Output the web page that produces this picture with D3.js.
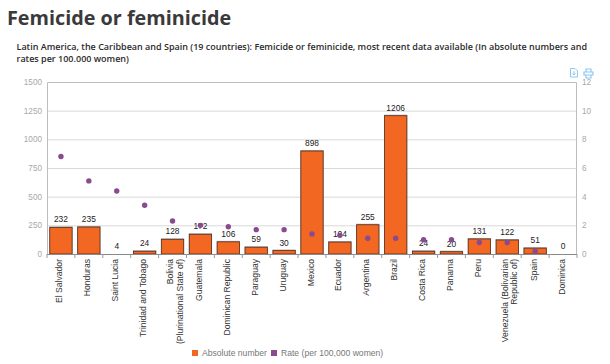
<!DOCTYPE html>
<html>
<head>
<meta charset="utf-8">
<script src="https://cdn.jsdelivr.net/npm/d3@7"></script>
<style>
  html, body { margin: 0; padding: 0; background: #fff; }
  svg { display: block; }
  text { font-family: "Liberation Sans", Arial, sans-serif; }
  .title { font-family: "Open Sans", sans-serif; font-weight: 700; font-size: 19.8px; fill: #3a3a3a; }
  .sub { font-family: "Open Sans", sans-serif; font-weight: 600; font-size: 9px; fill: #2b2b2b; }
</style>
</head>
<body>
<script>
// Values
var countries = [
  ["El Salvador"], ["Honduras"], ["Saint Lucia"], ["Trinidad and Tobago"],
  ["Bolivia", "(Plurinational State of)"], ["Guatemala"], ["Dominican Republic"],
  ["Paraguay"], ["Uruguay"], ["Mexico"], ["Ecuador"], ["Argentina"], ["Brazil"],
  ["Costa Rica"], ["Panama"], ["Peru"], ["Venezuela (Bolivarian", "Republic of)"],
  ["Spain"], ["Dominica"]
];
var absolute = [232, 235, 4, 24, 128, 172, 106, 59, 30, 898, 104, 255, 1206, 24, 20, 131, 122, 51, 0];
var rates = [6.8, 5.1, 4.4, 3.4, 2.3, 2.0, 1.9, 1.7, 1.7, 1.4, 1.3, 1.1, 1.1, 1.0, 1.0, 0.8, 0.8, 0.2, null];
var leftTicks = [0, 250, 500, 750, 1000, 1250, 1500];
var rightTicks = [0, 2, 4, 6, 8, 10, 12];
var legendLabels = ["Absolute number", "Rate (per 100,000 women)"];
var barColor = "#f26722";
var dotColor = "#8a4a8f";

var w = 610;
var h = 364;
var plot = { left: 47, right: 577, top: 82, bottom: 254 };

var svg = d3.select("body").append("svg")
    .attr("width", w)
    .attr("height", h);

svg.append("text").attr("class", "title").attr("x", 7).attr("y", 25).text("Femicide or feminicide");
svg.append("text").attr("class", "sub").attr("x", 16.5).attr("y", 50)
    .text("Latin America, the Caribbean and Spain (19 countries): Femicide or feminicide, most recent data available (In absolute numbers and");
svg.append("text").attr("class", "sub").attr("x", 16.5).attr("y", 62).text("rates per 100.000 women)");

var x = d3.scaleBand()
    .domain(d3.range(countries.length))
    .range([plot.left, plot.right])
    .paddingInner(0.2)
    .paddingOuter(0.1);

var yLeft = d3.scaleLinear().domain([0, 1500]).range([plot.bottom, plot.top]);
var yRight = d3.scaleLinear().domain([0, 12]).range([plot.bottom, plot.top]);

// gridlines
svg.append("g").selectAll("line")
    .data(leftTicks.slice(1, -1))
    .enter().append("line")
    .attr("x1", plot.left)
    .attr("x2", plot.right)
    .attr("y1", function(d) { return yLeft(d) + 0.5; })
    .attr("y2", function(d) { return yLeft(d) + 0.5; })
    .attr("stroke", "#d9d9d9");

// plot frame
svg.append("path")
    .attr("d", "M" + (plot.left + 0.5) + "," + plot.bottom + "V" + (plot.top + 0.5) + "H" + (plot.right - 0.5) + "V" + plot.bottom)
    .attr("fill", "none")
    .attr("stroke", "#bdbdbd");

// left and right axes
var axisL = svg.append("g")
    .attr("transform", "translate(" + plot.left + ",0)")
    .call(d3.axisLeft(yLeft).tickValues(leftTicks).tickFormat(d3.format("d")).tickSize(0).tickPadding(5));
var axisR = svg.append("g")
    .attr("transform", "translate(" + plot.right + ",0)")
    .call(d3.axisRight(yRight).tickValues(rightTicks).tickFormat(d3.format("d")).tickSize(0).tickPadding(5));
[axisL, axisR].forEach(function(a) {
  a.select(".domain").remove();
  a.selectAll("text").attr("font-size", 8.2).attr("fill", "#a8a8a8").style("font-family", '"Liberation Sans", Arial, sans-serif');
});

// bar shadow, then bar
svg.append("g").selectAll("rect")
    .data(absolute)
    .enter().append("rect")
    .attr("x", function(d, i) { return x(i) - 0.5; })
    .attr("y", function(d) { return yLeft(d) - 1; })
    .attr("width", x.bandwidth() + 1)
    .attr("height", function(d) { return Math.max(0, plot.bottom - yLeft(d) + 1); })
    .attr("fill", "#8f8f8f")
    .attr("opacity", function(d) { return d > 4 ? 0.8 : 0; });

svg.append("g").selectAll("rect")
    .data(absolute)
    .enter().append("rect")
    .attr("x", function(d, i) { return x(i); })
    .attr("y", function(d) { return yLeft(d); })
    .attr("width", x.bandwidth())
    .attr("height", function(d) { return plot.bottom - yLeft(d); })
    .attr("fill", barColor)
    .attr("stroke", "#5a3020")
    .attr("stroke-width", 0.8)
    .attr("opacity", function(d) { return d > 4 ? 1 : 0; });

// baseline and category ticks
svg.append("line")
    .attr("x1", plot.left).attr("x2", plot.right)
    .attr("y1", plot.bottom + 0.5).attr("y2", plot.bottom + 0.5)
    .attr("stroke", "#8a8a8a");
svg.append("g").selectAll("line")
    .data(d3.range(countries.length + 1))
    .enter().append("line")
    .attr("x1", function(d) { return plot.left + d * x.step(); })
    .attr("x2", function(d) { return plot.left + d * x.step(); })
    .attr("y1", plot.bottom)
    .attr("y2", plot.bottom + 4)
    .attr("stroke", "#9a9a9a");

// category labels, rotated
var labels = svg.append("g").selectAll("text")
    .data(countries)
    .enter().append("text")
    .attr("transform", function(d, i) {
      return "translate(" + (x(i) + x.bandwidth() / 2 + (d.length > 1 ? 0.5 : 1.5)) + "," + (plot.bottom + 5) + ") rotate(-90)";
    })
    .attr("text-anchor", "end")
    .attr("font-size", 8.6)
    .attr("fill", "#333");
labels.each(function(d) {
  var sel = d3.select(this);
  d.forEach(function(line, k) {
    sel.append("tspan").attr("x", 0).attr("dy", k ? 9.5 : 0).text(line);
  });
});

// value labels
svg.append("g").selectAll("text")
    .data(absolute)
    .enter().append("text")
    .attr("x", function(d, i) { return x(i) + x.bandwidth() / 2; })
    .attr("y", function(d) { return yLeft(d) - 5; })
    .attr("text-anchor", "middle")
    .attr("font-size", 8.4)
    .attr("fill", "#222")
    .text(function(d) { return d; });

// rate points, Dominica has none
svg.append("g").selectAll("circle")
    .data(d3.range(rates.length).filter(function(i) { return rates[i] !== null; }))
    .enter().append("circle")
    .attr("cx", function(i) { return x(i) + x.bandwidth() / 2; })
    .attr("cy", function(i) { return yRight(rates[i]); })
    .attr("r", 2.7)
    .attr("fill", dotColor);

// legend
var legend = svg.append("g");
legend.append("rect").attr("x", 192).attr("y", 350).attr("width", 6).attr("height", 6).attr("fill", barColor);
legend.append("text").attr("x", 202).attr("y", 356).attr("font-size", 8.6).attr("fill", "#777").text(legendLabels[0]);
legend.append("rect").attr("x", 271).attr("y", 350).attr("width", 6).attr("height", 6).attr("fill", dotColor);
legend.append("text").attr("x", 281).attr("y", 356).attr("font-size", 8.6).attr("fill", "#777").text(legendLabels[1]);

// export and print icons
var icons = svg.append("g").attr("fill", "none").attr("stroke", "#8cc8ee").attr("stroke-width", 1);
icons.append("path").attr("d", "M570.5,68.5h4.5l2.5,2.5v6h-7z M574,71v3.5 M572.5,73.5l1.5,1.5 1.5,-1.5");
icons.append("path").attr("d", "M584,72h9v3h-9z M586,72v-3h5v3 M586,75v3h5v-3").attr("stroke-width", 1.2);
</script>
</body>
</html>
